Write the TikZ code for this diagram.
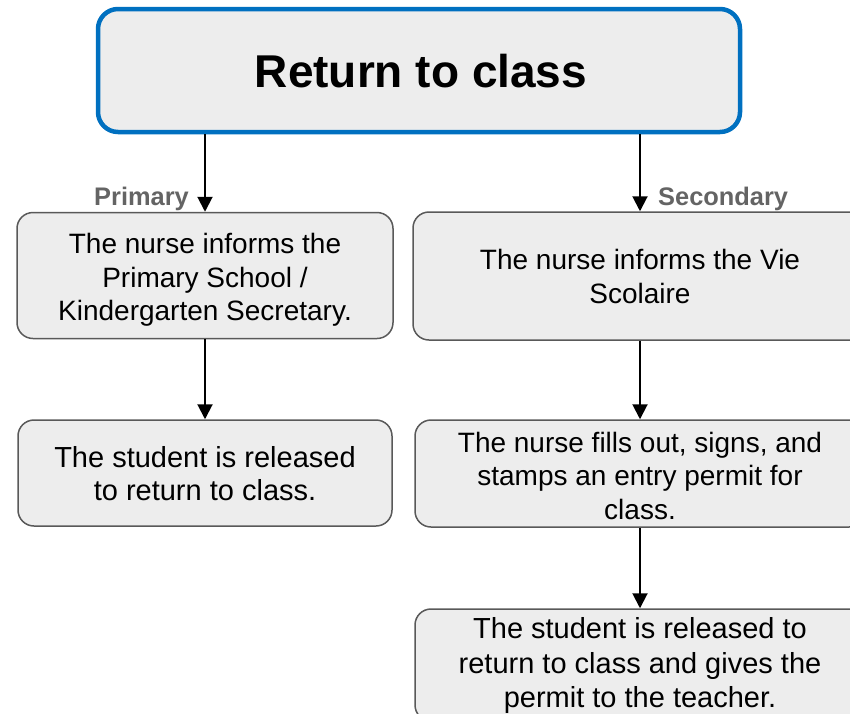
\documentclass[tikz,border=0pt]{standalone}
\usepackage{fontspec}
\setmainfont{Liberation Sans}
\usetikzlibrary{arrows.meta,calc}
\definecolor{boxfill}{HTML}{EDEDED}
\definecolor{boxline}{HTML}{595959}
\definecolor{titleblue}{HTML}{0070C0}
\definecolor{labelgray}{HTML}{646464}
\tikzset{
  stepbox/.style={draw=boxline, line width=1.5pt, fill=boxfill, rounded corners=16pt,
    inner sep=0pt},
  steptext/.style={align=center, inner sep=0pt, anchor=north},
  normaltext/.style={font=\fontsize{28}{33.5}\selectfont},
  largetext/.style={font=\fontsize{29}{33.5}\selectfont},
  titlebox/.style={draw=titleblue, line width=4.5pt, fill=boxfill, rounded corners=20pt,
    align=center, inner sep=0pt, font=\fontsize{46}{54}\selectfont\bfseries},
  arr/.style={line width=2pt, -{Triangle[length=15pt,width=15pt]}},
  branchlabel/.style={inner sep=0pt, text=labelgray, font=\fontsize{25.4}{28}\selectfont\bfseries}
}
\begin{document}
\begin{tikzpicture}[x=1pt,y=-1pt]
\useasboundingbox (0,0) rectangle (850,713);
\clip (0,0) rectangle (850,713);
\node[titlebox, minimum width=642pt, minimum height=123pt] (title) at (419,70.5) {};
\node[font=\fontsize{46}{54}\selectfont\bfseries, inner sep=0pt] (titletext) at (421,71) {Return to class};
% boxes
\node[stepbox, minimum width=376pt, minimum height=126pt] (L1) at (205,275.5) {};
\node[stepbox, minimum width=374pt, minimum height=106pt] (L2) at (205,473) {};
\node[stepbox, minimum width=454pt, minimum height=128pt] (R1) at (640,276) {};
\node[stepbox, minimum width=450pt, minimum height=107pt] (R2) at (640,473.5) {};
\node[stepbox, minimum width=450pt, minimum height=112pt] (R3) at (640,665) {};
% texts
\node[steptext, normaltext] (L1t) at (205,233.1)
  {The nurse informs the\\Primary School /\\Kindergarten Secretary.};
\node[steptext, largetext] (L2t) at (205,445.8)
  {The student is released\\to return to class.};
\node[steptext, normaltext] (R1t) at (640,249.1)
  {The nurse informs the Vie\\Scolaire};
\node[steptext, normaltext] (R2t) at (640,431.5)
  {The nurse fills out, signs, and\\stamps an entry permit for\\class.};
\node[steptext, font=\fontsize{29}{34.5}\selectfont] (R3t) at (640,617.4)
  {The student is released to\\return to class and gives the\\permit to the teacher.};
% connectors
\draw[arr] (title.south -| L1.north) -- (L1.north);
\draw[arr] (title.south -| R1.north) -- (R1.north);
\draw[arr] (L1.south) -- (L2.north);
\draw[arr] (R1.south) -- (R2.north);
\draw[arr] (R2.south) -- (R3.north);
\node[branchlabel, anchor=base east] (primary) at (189,205) {Primary};
\node[branchlabel, anchor=base west] (secondary) at (658,205) {Secondary};
\end{tikzpicture}
\end{document}
